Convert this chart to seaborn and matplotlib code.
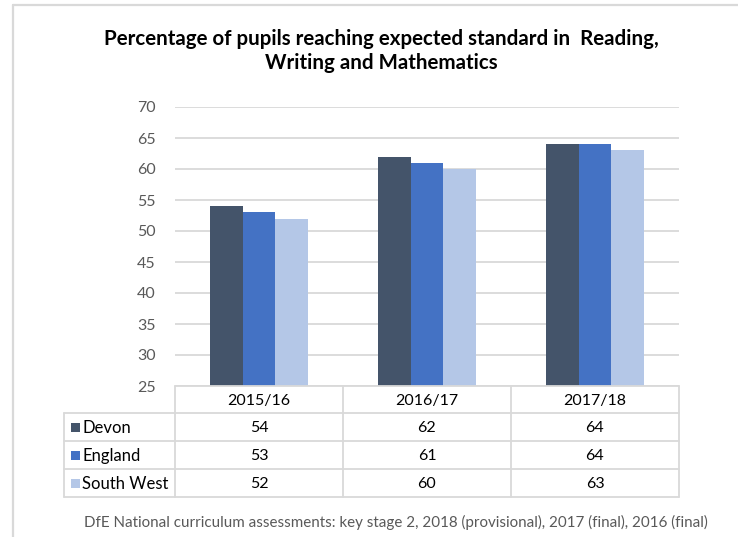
import matplotlib
matplotlib.use("Agg")
import matplotlib.pyplot as plt
import seaborn as sns
import pandas as pd
from matplotlib.patches import Rectangle

years = ["2015/16", "2016/17", "2017/18"]
regions = ["Devon", "England", "South West"]
devon = [54, 62, 64]
england = [53, 61, 64]
south_west = [52, 60, 63]
colors = ["#44546A", "#4472C4", "#B4C7E7"]
yticks = [25, 30, 35, 40, 45, 50, 55, 60, 65, 70]
title = "Percentage of pupils reaching expected standard in  Reading,\nWriting and Mathematics"
source = "DfE National curriculum assessments: key stage 2, 2018 (provisional), 2017 (final), 2016 (final)"

series = [devon, england, south_west]
df = pd.DataFrame({
    "year": [y for s in series for y in years],
    "region": [r for r, s in zip(regions, series) for _ in years],
    "value": [v for s in series for v in s],
})

sns.set_theme(style="white")
plt.rcParams["font.family"] = ["Lato", "DejaVu Sans"]

W, H = 738, 537
fig = plt.figure(figsize=(W / 100, H / 100), dpi=100)
fig.patch.set_facecolor("white")

L, R, T, B = 175, 679, 107, 386
ax = fig.add_axes([L / W, 1 - B / H, (R - L) / W, (B - T) / H])
sns.barplot(data=df, x="year", y="value", hue="region", palette=colors,
            width=0.585, saturation=1, ax=ax, legend=False, edgecolor="none",
            errorbar=None)
ax.set_ylim(25, 70)
ax.set_xlim(-0.5, 2.5)
ax.set_yticks(yticks)
ax.set_yticklabels([str(t) for t in yticks], color="#595959", fontsize=11.5)
ax.tick_params(axis="y", length=0, pad=14)
ax.set_xticks([])
ax.set_xlabel("")
ax.set_ylabel("")
for sp in ax.spines.values():
    sp.set_visible(False)
ax.grid(axis="y", color="#D9D9D9", lw=1.3)
ax.set_axisbelow(True)

# overlay in pixel coordinates
ov = fig.add_axes([0, 0, 1, 1], facecolor="none")
ov.set_xlim(0, W)
ov.set_ylim(H, 0)
ov.axis("off")

# figure border (top and left)
ov.plot([13, W], [5, 5], color="#D9D9D9", lw=1.6)
ov.plot([13, 13], [5, H], color="#D9D9D9", lw=1.6)

ov.text(381, 51, title, ha="center", va="center", fontsize=14.8,
        fontweight="bold", color="black", linespacing=1.3)

# data table
lc = "#D9D9D9"
col_edges = [L + (R - L) * i / len(years) for i in range(len(years) + 1)]
row_edges = [386, 413, 441, 469, 497]
label_left = 64
ov.plot([L, R], [row_edges[0], row_edges[0]], color=lc, lw=1.3)
for yv in row_edges[1:]:
    ov.plot([label_left, R], [yv, yv], color=lc, lw=1.3)
for xv in col_edges:
    ov.plot([xv, xv], [row_edges[0], row_edges[-1]], color=lc, lw=1.3)
ov.plot([label_left, label_left], [row_edges[1], row_edges[-1]], color=lc, lw=1.3)

for i, yr in enumerate(years):
    cx = (col_edges[i] + col_edges[i + 1]) / 2
    ov.text(cx, (row_edges[0] + row_edges[1]) / 2 + 1, yr, ha="center",
            va="center", fontsize=11.5, color="black")
for j, (r, s, c) in enumerate(zip(regions, series, colors)):
    cy = (row_edges[j + 1] + row_edges[j + 2]) / 2 + 1
    ov.add_patch(Rectangle((71, cy - 5), 9, 9, color=c, lw=0))
    ov.text(82, cy, r, ha="left", va="center", fontsize=12, color="black")
    for i, v in enumerate(s):
        cx = (col_edges[i] + col_edges[i + 1]) / 2
        ov.text(cx, cy, str(v), ha="center", va="center", fontsize=11.5,
                color="black")

ov.text(396, 522, source, ha="center", va="center", fontsize=10.9,
        color="#595959")

fig.savefig("out.png", dpi=100, facecolor="white")
